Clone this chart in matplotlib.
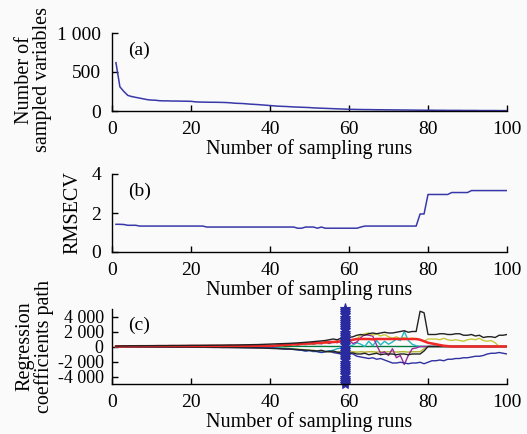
import numpy as np
import matplotlib
matplotlib.use("Agg")
import matplotlib.pyplot as plt

plt.rcParams['font.family'] = ['Liberation Serif', 'DejaVu Serif']

runs = list(range(1, 101))

n_vars = [620, 310, 250, 200, 185, 175, 165, 155, 145, 140,
          138, 132, 130, 130, 128, 128, 127, 126, 125, 124,
          118, 115, 114, 113, 112, 112, 111, 110, 108, 105,
          100, 98, 96, 92, 88, 85, 82, 78, 74, 70,
          66, 62, 60, 58, 55, 52, 50, 48, 46, 44,
          40, 38, 36, 34, 32, 30, 28, 26, 24, 22,
          21, 20, 19, 18, 18, 17, 16, 16, 15, 15,
          14, 14, 13, 13, 12, 12, 11, 11, 10, 10,
          10, 9, 9, 9, 8, 8, 8, 8, 7, 7,
          7, 7, 6, 6, 6, 6, 6, 5, 5, 5]

rmsecv = [1.42, 1.42, 1.41, 1.37, 1.37, 1.37, 1.33, 1.33, 1.33, 1.33,
          1.33, 1.33, 1.33, 1.33, 1.33, 1.33, 1.33, 1.33, 1.33, 1.33,
          1.33, 1.33, 1.33, 1.28, 1.28, 1.28, 1.28, 1.28, 1.28, 1.28,
          1.28, 1.28, 1.28, 1.28, 1.28, 1.28, 1.28, 1.28, 1.28, 1.28,
          1.28, 1.28, 1.28, 1.28, 1.28, 1.28, 1.22, 1.22, 1.28, 1.28,
          1.28, 1.22, 1.28, 1.22, 1.22, 1.22, 1.22, 1.22, 1.22, 1.22,
          1.22, 1.22, 1.28, 1.33, 1.33, 1.33, 1.33, 1.33, 1.33, 1.33,
          1.33, 1.33, 1.33, 1.33, 1.33, 1.33, 1.33, 1.95, 1.95, 2.95,
          2.95, 2.95, 2.95, 2.95, 2.95, 3.05, 3.05, 3.05, 3.05, 3.05,
          3.15, 3.15, 3.15, 3.15, 3.15, 3.15, 3.15, 3.15, 3.15, 3.15]

coef_black_hi = [50, 60, 80, 80, 90, 100, 100, 100, 110, 110,
                 110, 120, 120, 120, 130, 130, 130, 140, 140, 150,
                 150, 150, 160, 160, 170, 170, 180, 180, 190, 200,
                 200, 210, 220, 230, 240, 250, 260, 280, 300, 320,
                 340, 360, 380, 400, 420, 450, 480, 520, 560, 600,
                 650, 700, 750, 800, 900, 1000, 900, 1100, 1300, 1200,
                 1300, 1500, 1600, 1500, 1700, 1800, 1700, 1800, 1900, 1800,
                 1800, 1900, 2000, 2100, 1900, 2000, 2000, 4700, 4500, 1600,
                 1600, 1600, 1700, 1700, 1600, 1600, 1700, 1700, 1500, 1500,
                 1600, 1400, 1500, 1200, 1300, 1300, 1200, 1500, 1500, 1600]

coef_black_lo = [-20, -30, -30, -40, -40, -50, -50, -50, -60, -60,
                 -60, -70, -70, -70, -80, -80, -80, -90, -90, -90,
                 -100, -100, -100, -110, -110, -120, -120, -130, -130, -140,
                 -140, -150, -160, -170, -180, -190, -200, -210, -230, -250,
                 -270, -290, -310, -330, -350, -380, -410, -440, -480, -520,
                 -560, -600, -500, -650, -700, -600, -750, -800, -700, -900,
                 -850, -1000, -1000, -900, -1100, -1000, -900, -1100, -1000, -1000,
                 -1000, -1100, -1000, -1000, -1100, -1000, -1000, -1000, -600, 0,
                 0, 0, 0, 0, 0, 0, 0, 0, 0, 0,
                 0, 0, 0, 0, 0, 0, 0, 0, 0, 0]

coef_blue = [-30, -40, -40, -50, -50, -60, -60, -60, -70, -70,
             -70, -80, -80, -80, -90, -90, -90, -100, -100, -100,
             -100, -110, -110, -110, -120, -120, -120, -130, -130, -130,
             -140, -140, -150, -150, -160, -160, -170, -170, -180, -190,
             -200, -250, -300, -350, -300, -400, -450, -500, -600, -550,
             -600, -700, -800, -700, -600, -800, -900, -1000, -800, -900,
             -1000, -1300, -1400, -1500, -1600, -1500, -1700, -1600, -1800, -2000,
             -2200, -2200, -2100, -2200, -2300, -2200, -2200, -2100, -2300, -2100,
             -1900, -1900, -1800, -1900, -1700, -1700, -1600, -1600, -1500, -1500,
             -1400, -1300, -1300, -1200, -1000, -900, -900, -800, -900, -1000]

coef_yellow = [20, 30, 30, 40, 40, 40, 50, 50, 50, 60,
               60, 60, 60, 70, 70, 70, 70, 80, 80, 80,
               80, 80, 90, 90, 90, 90, 90, 100, 100, 100,
               100, 100, 110, 110, 110, 120, 120, 120, 130, 130,
               100, 150, 100, 200, 250, 200, 300, 250, 350, 300,
               400, 350, 500, 400, 600, 500, 700, 600, 800, 700,
               900, 1000, 1500, 1700, 1800, 1500, 1700, 1400, 1600, 1300,
               1100, 1300, 1000, 1200, 1000, 1100, 1000, 900, 700, 1000,
               1000, 1000, 900, 1100, 900, 800, 900, 800, 700, 900,
               1000, 900, 1100, 800, 700, 800, 500, 0, 0, 0]

coef_olive = [-10, -20, -20, -30, -30, -30, -40, -40, -40, -50,
              -50, -50, -50, -60, -60, -60, -60, -70, -70, -70,
              -70, -70, -80, -80, -80, -80, -80, -90, -90, -90,
              -90, -90, -100, -100, -100, -100, -110, -110, -110, -120,
              -100, -150, -200, -200, -250, -300, -350, -400, -450, -500,
              -500, -600, -650, -700, -700, -800, -750, -700, -750, -700,
              -700, -750, -700, -750, -700, -700, -750, -700, -750, -700,
              -700, -750, -700, -700, -750, -700, -700, -700, -300, 0,
              0, 0, 0, 0, 0, 0, 0, 0, 0, 0,
              0, 0, 0, 0, 0, 0, 0, 0, 0, 0]

coef_red = [10, 20, 20, 30, 30, 30, 40, 40, 40, 40,
            50, 50, 50, 50, 60, 60, 60, 60, 60, 70,
            70, 70, 70, 70, 80, 80, 80, 80, 80, 90,
            90, 90, 90, 90, 90, 100, 100, 100, 100, 100,
            100, 150, 200, 200, 250, 300, 300, 350, 400, 400,
            450, 500, 500, 550, 600, 600, 650, 700, 700, 800,
            900, 1000, 1000, 1000, 1000, 950, 1000, 1000, 1000, 1000,
            1000, 1000, 1000, 1000, 1000, 1000, 1000, 900, 700, 500,
            400, 300, 200, 100, 50, 0, 0, 0, 0, 0,
            0, 0, 0, 0, 0, 0, 0, 0, 0, 0]

coef_cyan = [-10, -10, -20, -20, -20, -30, -30, -30, -30, -40,
             -40, -40, -40, -40, -50, -50, -50, -50, -50, -60,
             -60, -60, -60, -60, -60, -70, -70, -70, -70, -70,
             -70, -80, -80, -80, -80, -80, -80, -90, -90, -90,
             -100, -150, -200, -250, -300, -350, -400, -500, -600, -500,
             -700, -600, -800, -700, -600, -500, -300, -200, -100, 0,
             200, 500, 300, 0, 700, 100, 800, 200, 700, 300,
             600, 1000, 800, 2000, 800, 300, 100, 0, 0, 0,
             0, 0, 0, 0, 0, 0, 0, 0, 0, 0,
             0, 0, 0, 0, 0, 0, 0, 0, 0, 0]

coef_magenta = [30, 30, 40, 40, 40, 50, 50, 50, 60, 60,
                60, 60, 70, 70, 70, 70, 80, 80, 80, 80,
                80, 90, 90, 90, 90, 90, 100, 100, 100, 100,
                100, 100, 110, 110, 110, 110, 120, 120, 120, 120,
                100, 150, 100, 200, 150, 250, 200, 300, 250, 350,
                300, 400, 350, 500, 400, 600, 500, 700, 600, 800,
                400, 600, 1200, 1600, 1500, 1400, 200, -900, -700, -1200,
                -300, -1500, -1200, -2400, -1200, -300, -200, 0, 0, 0,
                0, 0, 0, 0, 0, 0, 0, 0, 0, 0,
                0, 0, 0, 0, 0, 0, 0, 0, 0, 0]

coef_green = [0, 10, 10, 10, 20, 20, 20, 20, 20, 30,
              30, 30, 30, 30, 30, 30, 30, 30, 30, 30,
              30, 30, 30, 30, 30, 30, 30, 30, 30, 30,
              30, 30, 30, 30, 30, 30, 30, 30, 30, 30,
              30, 30, 20, 20, 20, 20, 20, 20, 10, 10,
              10, 10, 10, 10, 0, 0, 0, 0, 0, 0,
              0, 0, 0, 0, 0, 0, 0, 0, 0, 0,
              0, 0, 0, 0, 0, 0, 0, 0, 0, 0,
              0, 0, 0, 0, 0, 0, 0, 0, 0, 0,
              0, 0, 0, 0, 0, 0, 0, 0, 0, 0]

best_run = 59

x_ticks = [0, 20, 40, 60, 80, 100]
a_ticks = [0, 500, 1000]
a_ticklabels = ['0', '500', '1 000']
b_ticks = [0, 2, 4]
c_ticks = [-4000, -2000, 0, 2000, 4000]
c_ticklabels = ['-4 000', '-2 000', '0', '2 000', '4 000']

W, H = 527, 434
fig = plt.figure(figsize=(W / 100, H / 100), dpi=100, facecolor='#fafafa')

def box(left, top, right, bottom):
    return [left / W, 1 - bottom / H, (right - left) / W, (bottom - top) / H]

ax_a = fig.add_axes(box(112, 33, 507, 111))
ax_b = fig.add_axes(box(112, 174, 507, 252))
ax_c = fig.add_axes(box(112, 309, 507, 384))

line_blue = '#3838aa'
FS = 14
LFS = 14.5

for ax in (ax_a, ax_b, ax_c):
    ax.set_facecolor('#fafafa')
    for s in ('top', 'right'):
        ax.spines[s].set_visible(False)
    for s in ('left', 'bottom'):
        ax.spines[s].set_linewidth(1.0)
    ax.tick_params(direction='in', length=4, width=1.0, labelsize=FS)
    ax.tick_params(axis='x', pad=7)
    ax.tick_params(axis='y', pad=8)
    ax.set_xlim(0, 100)
    ax.set_xticks(x_ticks)
    ax.set_xlabel('Number of sampling runs', fontsize=LFS, labelpad=1)

ax_a.plot(runs, n_vars, color=line_blue, lw=1.1)
ax_a.set_ylim(0, 1000)
ax_a.set_yticks(a_ticks)
ax_a.set_yticklabels(a_ticklabels)
ax_a.set_ylabel('Number of\nsampled variables', fontsize=LFS, linespacing=0.95)
ax_a.yaxis.set_label_coords(-0.152, 0.40)
ax_a.text(0.04, 0.72, '(a)', transform=ax_a.transAxes, fontsize=FS)

ax_b.plot(runs, rmsecv, color=line_blue, lw=1.1)
ax_b.set_ylim(0, 4)
ax_b.set_yticks(b_ticks)
ax_b.set_ylabel('RMSECV', fontsize=LFS)
ax_b.yaxis.set_label_coords(-0.075, 0.5)
ax_b.text(0.04, 0.72, '(b)', transform=ax_b.transAxes, fontsize=FS)

series = [
    (coef_green, '#007a3d', 1.0),
    (coef_olive, '#b5b52a', 1.0),
    (coef_cyan, '#22b8c0', 1.0),
    (coef_magenta, '#9a2a9a', 1.0),
    (coef_blue, '#3030a0', 1.0),
    (coef_black_lo, '#222222', 1.0),
    (coef_yellow, '#c8c83a', 1.0),
    (coef_red, '#f02828', 1.8),
    (coef_black_hi, '#222222', 1.0),
]
for vals, col, lw in series:
    ax_c.plot(runs, vals, color=col, lw=lw)
ax_c.set_ylim(-5000, 5000)
ax_c.set_yticks(c_ticks)
ax_c.set_yticklabels(c_ticklabels, fontsize=13)
ax_c.tick_params(axis='y', pad=6)
ax_c.set_ylabel('Regression\ncoefficients path', fontsize=LFS, linespacing=0.95)
ax_c.yaxis.set_label_coords(-0.148, 0.5)
ax_c.text(0.04, 0.72, '(c)', transform=ax_c.transAxes, fontsize=FS)

ylo, yhi = ax_c.get_ylim()
star_y = np.linspace(ylo, yhi, 36)
ax_c.plot([best_run] * len(star_y), star_y, color='#2a2aa0', lw=1.5,
          marker='*', markersize=8, markeredgewidth=0.8, clip_on=False)

fig.savefig('out.png', dpi=100, facecolor=fig.get_facecolor())
